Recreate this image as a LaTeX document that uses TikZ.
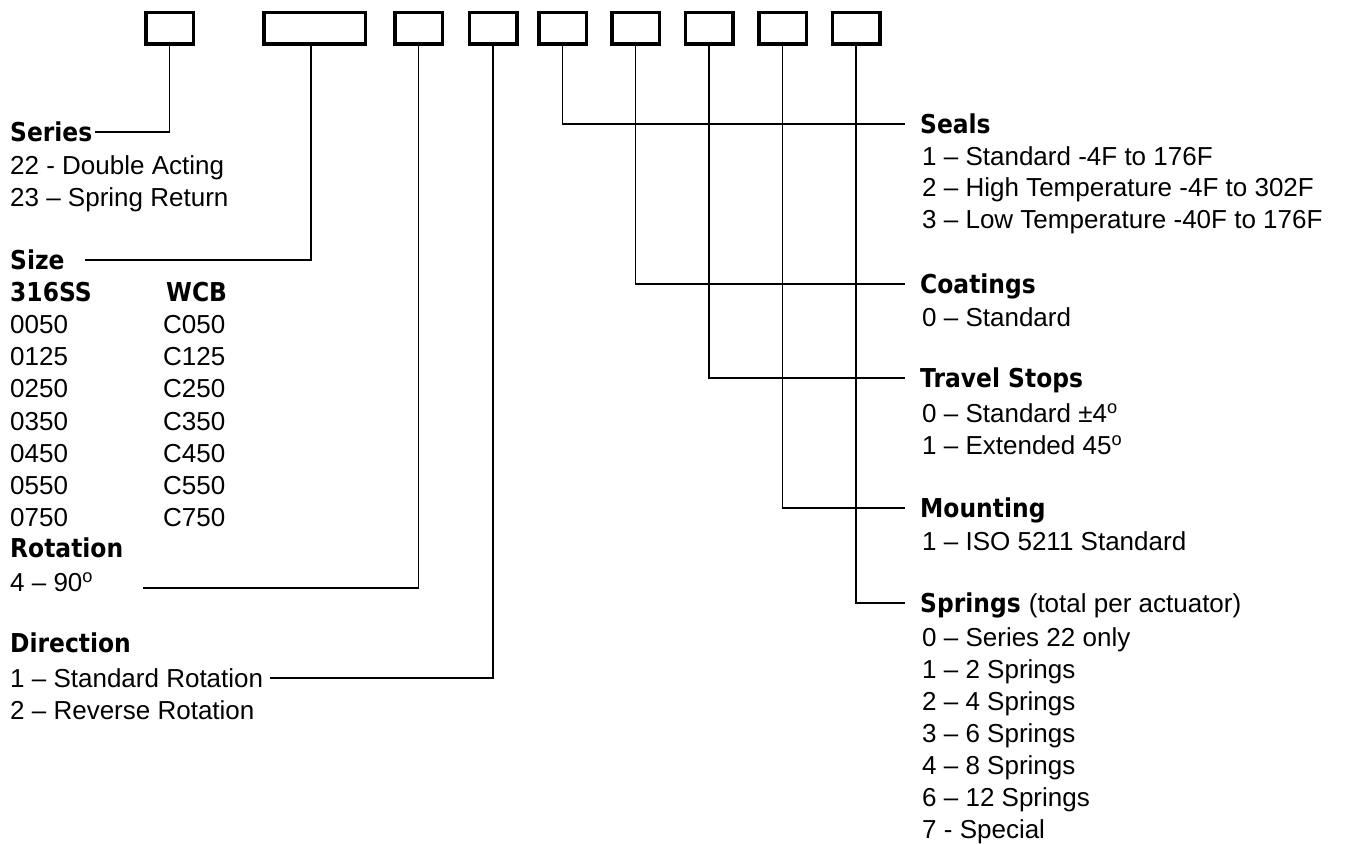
\documentclass[tikz,border=0pt]{standalone}
\usepackage{fontspec}
\setmainfont{Liberation Sans}
\newfontfamily\headfont{DejaVu Sans}[FakeStretch=0.9]

\begin{document}
\begin{tikzpicture}[
    x = 1pt,
    y = -1pt,
    box/.style = {
      draw,
      line width = 3.5pt,
      inner sep = 0pt,
      minimum width = 47.5pt,
      minimum height = 31.5pt
    },
    widebox/.style = {box, minimum width = 101.5pt},
    head/.style = {
      anchor = west,
      inner sep = 0pt,
      text height = 19pt,
      text depth = 0pt,
      font = \headfont\bfseries\fontsize{26}{30}\selectfont
    },
    item/.style = {
      anchor = west,
      inner sep = 0pt,
      text height = 18.7pt,
      text depth = 0pt,
      font = \fontsize{26}{30}\selectfont
    },
    link/.style = {line width = 1.8pt}
  ]
  \useasboundingbox (0,0) rectangle (1346,843);

  % code boxes
  \node[box] (b1) at (169.5,28.5) {};
  \node[widebox] (b2) at (314.5,28.5) {};
  \foreach \x [count=\i from 3] in {418.5,493,562.5,635.5,709,782.5,856}
    \node[box] (b\i) at (\x,28.5) {};

  % left column
  \scope[]
    \node[head] (series) at (10,132) {Series};
    \node[item] (ser1) at (10,165) {22 - Double Acting};
    \node[item] (ser2) at (10,197) {23 -- Spring Return};

    \node[head] (size) at (10,260) {Size};
    \node[head] (ss) at (10,292) {316SS};
    \node[head] (wcb) at (166,292) {WCB};
    \foreach \a/\c [count=\i] in {0050/C050,0125/C125,0250/C250,0350/C350,0450/C450,0550/C550,0750/C750}{
      \node[item] (ss\i) at (10,{292+32.2*\i}) {\a};
      \node[item] (wcb\i) at (163,{292+32.2*\i}) {\c};
    }

    \node[head] (rotation) at (10,548) {Rotation};
    \node[item] (rot1) at (10,582) {4 -- 90\textsuperscript{o}};
    \coordinate (rotend) at (143,588);

    \node[head] (direction) at (10,643) {Direction};
    \node[item] (dir1) at (10,678) {1 -- Standard Rotation};
    \node[item] (dir2) at (10,710) {2 -- Reverse Rotation};
  \endscope

  % right column
  \scope[]
    \node[head] (seals) at (920,124) {Seals};
    \foreach \y/\t [count=\i] in {156/1 -- Standard -4F to 176F,187/2 -- High Temperature -4F to 302F,219/3 -- Low Temperature -40F to 176F}
      \node[item] (seal\i) at (922,\y) {\t};

    \node[head] (coat) at (920,284) {Coatings};
    \node[item] (coat1) at (922,317) {0 -- Standard};

    \node[head] (travel) at (920,378) {Travel Stops};
    \node[item] (trav1) at (922,413) {0 -- Standard ±4\textsuperscript{o}};
    \node[item] (trav2) at (922,445) {1 -- Extended 45\textsuperscript{o}};

    \node[head] (mount) at (920,508) {Mounting};
    \node[item] (mount1) at (922,541) {1 -- ISO 5211 Standard};

    \node[head] (spring) at (920,603) {Springs {\normalfont\fontsize{26}{30}\selectfont (total per actuator)}};
    \foreach \t [count=\i] in {0 -- Series 22 only,1 -- 2 Springs,2 -- 4 Springs,3 -- 6 Springs,4 -- 8 Springs,6 -- 12 Springs,7 - Special}
      \node[item] (spr\i) at (922,{605+32*\i}) {\t};
  \endscope

  % connectors
  \draw[link, shorten >= 3pt] (b1.south) |- (series.east);
  \draw[link, shorten >= 20pt] ([xshift=-3.5pt]b2.south) |- (size.east);
  \draw[link] (b3.south) |- (rotend);
  \draw[link, shorten >= 7pt] (b4.south) |- (dir1.east);
  \foreach \b/\h in {5/seals,6/coat,7/travel,8/mount,9/spring}
    \draw[link, shorten >= 15pt] (b\b.south) |- (\h.west);
\end{tikzpicture}
\end{document}
